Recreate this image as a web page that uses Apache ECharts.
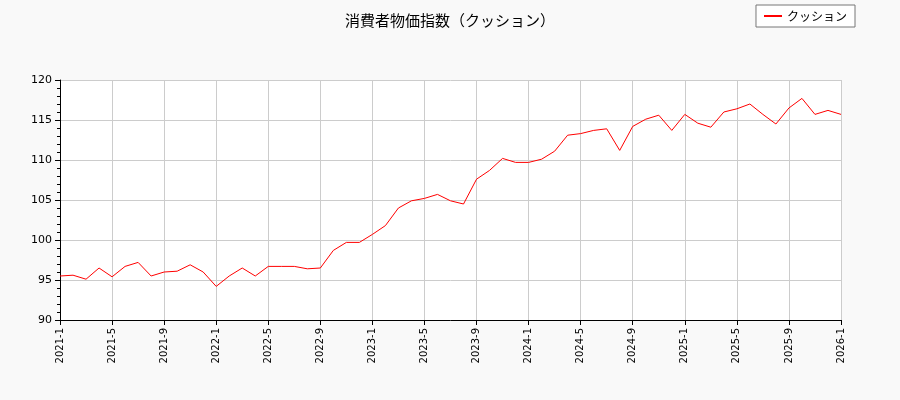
<!DOCTYPE html>
<html>
<head>
<meta charset="utf-8">
<script src="https://cdn.jsdelivr.net/npm/echarts@6/dist/echarts.min.js"></script>
<style>html,body{margin:0;padding:0;background:#f9f9f9;}#chart{width:900px;height:400px;}</style>
</head>
<body>
<div id="chart"></div>
<script>
// 月份标签 2021-1 ～ 2026-1
var months = [];
for (var y = 2021; y <= 2026; y++) {
    for (var m = 1; m <= 12; m++) {
        months.push(y + '-' + m);
        if (y === 2026) break;
    }
}
// 消费者物价指数(クッション)
var values = [95.5, 95.6, 95.1, 96.5, 95.4, 96.7, 97.2, 95.5, 96.0, 96.1, 96.9, 96.0,
    94.2, 95.5, 96.5, 95.5, 96.7, 96.7, 96.7, 96.4, 96.5, 98.7, 99.7, 99.7,
    100.7, 101.8, 104.0, 104.9, 105.2, 105.7, 104.9, 104.5, 107.6, 108.7, 110.2, 109.7,
    109.7, 110.1, 111.1, 113.1, 113.3, 113.7, 113.9, 111.2, 114.2, 115.1, 115.6, 113.7,
    115.7, 114.6, 114.1, 116.0, 116.4, 117.0, 115.7, 114.5, 116.5, 117.7, 115.7, 116.2, 115.7];

var chart = echarts.init(document.getElementById('chart'));
chart.setOption({
    backgroundColor: '#f9f9f9',
    animation: false,
    title: {
        text: '消費者物価指数（クッション）',
        left: 'center',
        top: 8,
        textStyle: {fontSize: 15, fontWeight: 'normal', color: '#000', fontFamily: 'Noto Sans CJK JP'}
    },
    legend: {
        right: 45,
        top: 5,
        data: [{name: 'クッション', icon: 'rect'}],
        backgroundColor: '#fff',
        borderColor: '#777',
        borderWidth: 1,
        borderRadius: 0,
        padding: [5, 8],
        itemWidth: 18,
        itemHeight: 2,
        textStyle: {fontSize: 12, color: '#000', fontFamily: 'Noto Sans CJK JP'}
    },
    grid: {left: 60, right: 59, top: 80, bottom: 80, show: true, backgroundColor: '#fff', borderWidth: 0},
    xAxis: {
        type: 'category',
        data: months,
        boundaryGap: false,
        axisLine: {lineStyle: {color: '#000'}},
        axisTick: {interval: 3, length: 5, lineStyle: {color: '#000'}},
        axisLabel: {interval: 3, rotate: 90, fontSize: 10, color: '#000', fontFamily: 'DejaVu Sans'},
        splitLine: {show: true, interval: 3, lineStyle: {color: '#ccc'}}
    },
    yAxis: {
        type: 'value',
        min: 90,
        max: 120,
        interval: 5,
        axisLine: {show: true, lineStyle: {color: '#000'}},
        axisTick: {show: true, length: 5, lineStyle: {color: '#000'}},
        minorTick: {show: true, splitNumber: 5, length: 3, lineStyle: {color: '#000'}},
        axisLabel: {fontSize: 11, color: '#000', fontFamily: 'DejaVu Sans'},
        splitLine: {lineStyle: {color: '#ccc'}}
    },
    series: [{
        name: 'クッション',
        type: 'line',
        data: values,
        symbol: 'none',
        lineStyle: {color: '#ff0000', width: 1},
        itemStyle: {color: '#ff0000'}
    }]
});
</script>
</body>
</html>
